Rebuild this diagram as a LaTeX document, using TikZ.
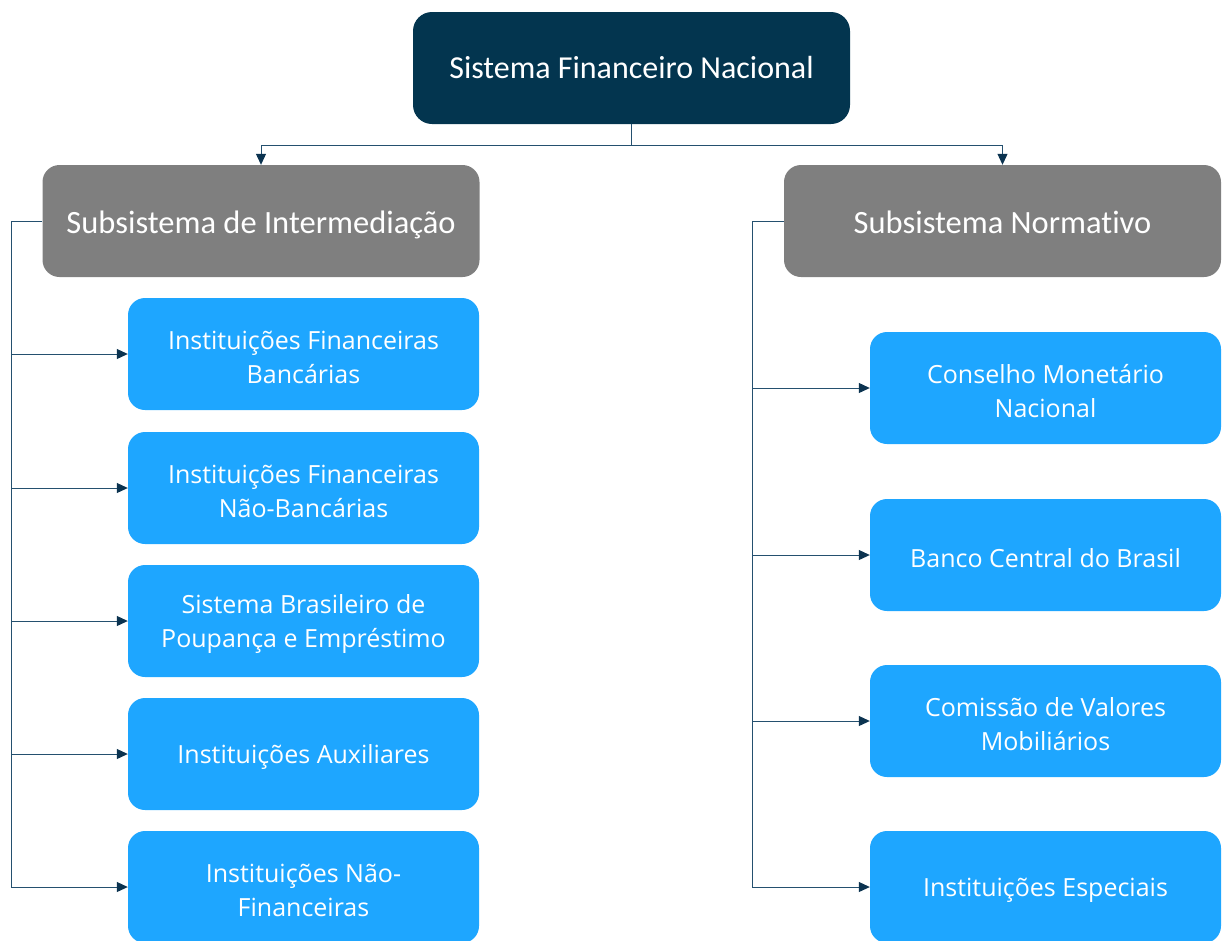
\documentclass[tikz,border=0pt]{standalone}
\usepackage{fontspec}
\setmainfont[Ligatures=NoCommon]{Carlito}
\newfontfamily\osans[Ligatures=NoCommon]{Open Sans}
\usetikzlibrary{arrows.meta}
\definecolor{navy}{HTML}{03354F}
\definecolor{greybox}{HTML}{7F7F7F}
\definecolor{skyblue}{HTML}{1EA6FF}
\definecolor{linkc}{HTML}{24506F}
\definecolor{tipc}{HTML}{0B3350}
\tikzset{
  rootbox/.style={fill=navy, rounded corners=19pt, minimum width=437pt, minimum height=112pt,
    inner sep=0pt, text=white, font=\fontsize{32}{38}\selectfont},
  groupbox/.style={fill=greybox, rounded corners=17pt, minimum width=437pt, minimum height=112pt,
    inner sep=0pt},
  grouptext/.style={inner sep=0pt, text=white, text height=24pt, text depth=6pt,
    font=\fontsize{32.5}{38}\selectfont},
  leafbox/.style={fill=skyblue, rounded corners=17pt, minimum width=351pt, minimum height=112pt,
    inner sep=0pt},
  leaftext/.style={inner sep=0pt, text=white, align=center, font=\osans\fontsize{25}{34}\selectfont},
  link/.style={draw=linkc, line width=1pt},
  arr/.style={link, -{Triangle[length=11pt,width=10pt,fill=tipc,color=tipc]}}
}
% a box with its caption set slightly below the box centre
\newcommand\groupnode[3]{%
  \node[groupbox] (#1) at #2 {};
  \node[grouptext] (#1-t) at ([yshift=-3pt]#1.center) {#3};}
\newcommand\leafnode[3]{%
  \node[leafbox] (#1) at #2 {};
  \node[leaftext] (#1-t) at ([yshift=-3pt]#1.center) {#3};}
\begin{document}
\begin{tikzpicture}[x=1pt,y=-1pt]
\useasboundingbox (0,0) rectangle (1222,940);

% top level
\node[rootbox] (root) at (631.5,68) {Sistema Financeiro Nacional};

% subsystems
\groupnode{inter}{(261,221)}{Subsistema de Intermediação}
\groupnode{norm}{(1002.5,221)}{Subsistema Normativo}

% intermediation branch
\leafnode{b1}{(303.5,354)}{Instituições Financeiras\\Bancárias}
\leafnode{b2}{(303.5,488)}{Instituições Financeiras\\Não-Bancárias}
\leafnode{b3}{(303.5,621)}{Sistema Brasileiro de\\Poupança e Empréstimo}
\leafnode{b4}{(303.5,754)}{Instituições Auxiliares}
\leafnode{b5}{(303.5,887)}{Instituições Não-\\Financeiras}

% normative branch
\leafnode{n1}{(1045.5,388)}{Conselho Monetário\\Nacional}
\leafnode{n2}{(1045.5,555)}{Banco Central do Brasil}
\leafnode{n3}{(1045.5,721)}{Comissão de Valores\\Mobiliários}
\leafnode{n4}{(1045.5,887)}{Instituições Especiais}

% root to subsystems
\coordinate (j) at (631.5,145);
\draw[link] (root.south) -- (j);
\draw[arr] (j) -| (inter.north);
\draw[arr] (j) -| (norm.north);

% intermediation spine
\coordinate (ls) at (11,221);
\draw[link] (inter.west) -- (ls) -- (ls |- b5.west);
\foreach \b in {b1,b2,b3,b4,b5}
  \draw[arr] (ls |- \b.west) -- (\b.west);

% normative spine
\coordinate (rs) at (752,221);
\draw[link] (norm.west) -- (rs) -- (rs |- n4.west);
\foreach \b in {n1,n2,n3,n4}
  \draw[arr] (rs |- \b.west) -- (\b.west);
\end{tikzpicture}
\end{document}
